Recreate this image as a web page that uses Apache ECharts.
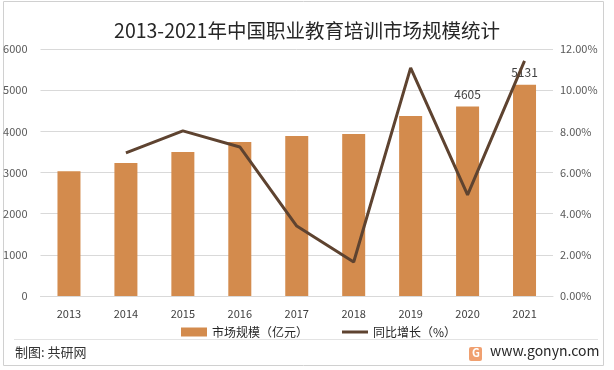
<!DOCTYPE html>
<html>
<head>
<meta charset="utf-8">
<script src="https://cdn.jsdelivr.net/npm/echarts@6/dist/echarts.min.js"></script>
<style>
html,body{margin:0;padding:0;background:#fff;}
#c{width:614px;height:370px;}
</style>
</head>
<body>
<div id="c"></div>
<script>
const years = ['2013','2014','2015','2016','2017','2018','2019','2020','2021'];
const marketSize = [3030, 3230, 3500, 3740, 3885, 3935, 4375, 4605, 5131];
const growthRate = [null, 6.95, 8.02, 7.24, 3.40, 1.65, 11.08, 4.91, 11.42];
const labeledYears = ['2020', '2021'];

const font = '"Noto Sans CJK SC", "Noto Sans", sans-serif';
const chart = echarts.init(document.getElementById('c'));
chart.setOption({
  animation: false,
  textStyle: { fontFamily: font },
  title: {
    text: '2013-2021年中国职业教育培训市场规模统计',
    left: 'center', top: 16,
    textStyle: { fontSize: 19.5, fontWeight: 'normal', color: '#262626', fontFamily: font }
  },
  grid: { left: 40.5, right: 61, top: 49, bottom: 74, containLabel: false },
  legend: [
    {
      left: 176, top: 321,
      itemWidth: 26, itemHeight: 9,
      textStyle: { fontSize: 12, color: '#262626', fontFamily: font },
      data: [{ name: '市场规模（亿元）', icon: 'rect' }]
    },
    {
      left: 337, top: 321,
      itemWidth: 26, itemHeight: 3,
      textStyle: { fontSize: 12, color: '#262626', fontFamily: font },
      data: [{ name: '同比增长（%）', icon: 'rect' }]
    }
  ],
  xAxis: {
    type: 'category', data: years,
    axisLine: { lineStyle: { color: '#d9d9d9' } },
    axisTick: { show: false },
    axisLabel: { color: '#404040', fontSize: 11, margin: 12 }
  },
  yAxis: [
    {
      type: 'value', min: 0, max: 6000, interval: 1000,
      axisLine: { show: false }, axisTick: { show: false },
      axisLabel: { color: '#595959', fontSize: 11, margin: 13, formatter: v => String(v) },
      splitLine: { lineStyle: { color: '#d9d9d9' } }
    },
    {
      type: 'value', min: 0, max: 12, interval: 2,
      axisLine: { show: false }, axisTick: { show: false },
      axisLabel: { color: '#595959', fontSize: 11, margin: 7, formatter: v => v.toFixed(2) + '%' },
      splitLine: { show: false }
    }
  ],
  series: [
    {
      name: '市场规模（亿元）', type: 'bar', barWidth: 23,
      itemStyle: { color: '#D38B4D' },
      label: {
        show: true, position: 'top', distance: 6, color: '#404040', fontSize: 12,
        formatter: p => labeledYears.includes(p.name) ? String(p.value) : ''
      },
      data: marketSize, z: 2
    },
    {
      name: '同比增长（%）', type: 'line', yAxisIndex: 1,
      showSymbol: false, symbol: 'none',
      lineStyle: { color: '#5E4330', width: 3 },
      itemStyle: { color: '#5E4330' },
      data: growthRate, z: 3
    }
  ],
  graphic: [
    { type: 'rect', shape: { x: 3.5, y: 1.5, width: 600, height: 364 }, style: { fill: 'none', stroke: '#d0d0d0', lineWidth: 1 }, silent: true },
    { type: 'line', shape: { x1: 14, y1: 339.5, x2: 598, y2: 339.5 }, style: { stroke: '#e3e3e3', lineWidth: 1 }, silent: true },
    { type: 'text', left: 15, top: 346, style: { text: '制图: 共研网', fontSize: 13, fill: '#333', fontFamily: font } },
    { type: 'rect', shape: { x: 469, y: 347, width: 13, height: 14, r: 2 }, style: { fill: '#F0A070' } },
    { type: 'text', left: 472, top: 347, style: { text: 'G', fontSize: 11, fontWeight: 'bold', fill: '#fff', fontFamily: font } },
    { type: 'text', left: 490, top: 344, style: { text: 'www.gonyn.com', fontSize: 14, fill: '#262626', fontFamily: font } }
  ]
});
</script>
</body>
</html>
